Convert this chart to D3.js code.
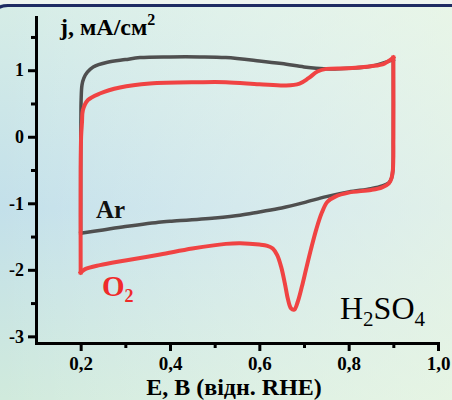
<!DOCTYPE html>
<html>
<head>
<meta charset="utf-8">
<script src="https://cdn.jsdelivr.net/npm/d3@7"></script>
<style>
  html, body { margin: 0; padding: 0; background: #e6f1ee; }
  svg { display: block; }
  text { font-family: "Liberation Serif", "Times New Roman", serif; }
</style>
</head>
<body>
<svg id="chart"></svg>
<script>
// CV curves, Pt-type electrode in H2SO4 (Ar vs O2 saturated)
var arForwardE = [0.2, 0.2, 0.2005, 0.201, 0.203, 0.207, 0.215, 0.228, 0.26, 0.3, 0.333, 0.4, 0.467, 0.525, 0.6, 0.65, 0.7, 0.727, 0.76, 0.8, 0.85, 0.9];
var arForwardJ = [-1.45, -0.6, 0.2, 0.55, 0.78, 0.88, 0.97, 1.05, 1.12, 1.16, 1.19, 1.2, 1.2, 1.19, 1.14, 1.1, 1.05, 1.03, 1.02, 1.03, 1.06, 1.16];
var arReverseE = [0.9, 0.9, 0.899, 0.896, 0.89, 0.875, 0.85, 0.8, 0.75, 0.7, 0.65, 0.6, 0.557, 0.5, 0.4, 0.38, 0.3, 0.25, 0.2];
var arReverseJ = [1.16, 0.0, -0.5, -0.62, -0.69, -0.74, -0.78, -0.83, -0.9, -0.99, -1.07, -1.13, -1.18, -1.22, -1.27, -1.28, -1.35, -1.4, -1.45];

var o2ForwardE = [0.2, 0.2, 0.201, 0.203, 0.205, 0.216, 0.243, 0.288, 0.355, 0.467, 0.525, 0.6, 0.66, 0.69, 0.71, 0.73, 0.75, 0.8, 0.85, 0.88, 0.9];
var o2ForwardJ = [-2.04, -0.5, 0.0, 0.22, 0.4, 0.55, 0.65, 0.74, 0.8, 0.82, 0.82, 0.79, 0.77, 0.8, 0.88, 0.98, 1.02, 1.03, 1.06, 1.1, 1.19];
var o2ReverseE = [0.9, 0.9, 0.899, 0.896, 0.89, 0.875, 0.85, 0.8, 0.77, 0.752, 0.74, 0.728, 0.716, 0.705, 0.695, 0.686, 0.678, 0.671, 0.664, 0.657, 0.649, 0.64, 0.63, 0.618, 0.6, 0.557, 0.525, 0.45, 0.378, 0.3, 0.243, 0.21, 0.2];
var o2ReverseJ = [1.19, 0.0, -0.5, -0.62, -0.7, -0.76, -0.8, -0.84, -0.9, -0.98, -1.14, -1.38, -1.68, -1.98, -2.26, -2.48, -2.6, -2.58, -2.44, -2.2, -1.96, -1.78, -1.68, -1.64, -1.62, -1.6, -1.61, -1.68, -1.77, -1.86, -1.93, -1.99, -2.04];

var xTicks = [0.2, 0.4, 0.6, 0.8, 1.0];
var xMinorTicks = [0.3, 0.5, 0.7, 0.9];
var yTicks = [-3, -2, -1, 0, 1];
var yMinorTicks = [-2.5, -1.5, -0.5, 0.5, 1.5];

var width = 452;
var height = 400;

var svg = d3.select('#chart')
    .attr('width', width)
    .attr('height', height);

// background
var defs = svg.append('defs');
var vgrad = defs.append('linearGradient')
    .attr('id', 'bgv').attr('x1', 0).attr('y1', 0).attr('x2', 0).attr('y2', 1);
vgrad.append('stop').attr('offset', '0%').attr('stop-color', '#d6ede6');
vgrad.append('stop').attr('offset', '52%').attr('stop-color', '#c3e0ea');
vgrad.append('stop').attr('offset', '100%').attr('stop-color', '#d0eadc');
var hgrad = defs.append('linearGradient')
    .attr('id', 'bgh').attr('x1', 0).attr('y1', 0).attr('x2', 1).attr('y2', 0);
hgrad.append('stop').attr('offset', '0%').attr('stop-color', '#ffffff').attr('stop-opacity', 0);
hgrad.append('stop').attr('offset', '100%').attr('stop-color', '#f4fbe8').attr('stop-opacity', 0.6);

svg.append('rect').attr('width', width).attr('height', height).attr('fill', 'url(#bgv)');
svg.append('rect').attr('width', width).attr('height', height).attr('fill', 'url(#bgh)');
svg.append('rect').attr('width', width).attr('height', 4).attr('fill', '#eef4f0');

// dark frame line across the top
svg.append('path')
    .attr('d', 'M -6,40 L -6,18 Q -6,5.5 8,5.5 L 460,5.5')
    .attr('fill', 'none')
    .attr('stroke', '#1f2b63')
    .attr('stroke-width', 3);

var x = d3.scaleLinear().domain([0.1, 1.0]).range([36, 438]);
var y = d3.scaleLinear().domain([-3.1, 1.8]).range([343, 17]);

function zip(es, js) {
    return es.map(function(e, i) { return [e, js[i]]; });
}

var line = d3.line()
    .x(function(d) { return x(d[0]); })
    .y(function(d) { return y(d[1]); })
    .curve(d3.curveCatmullRom.alpha(0.5));

// each sweep drawn on its own so the switching corners stay sharp
var sweeps = [
    { pts: zip(arForwardE, arForwardJ), color: '#4f4f4f', w: 3.5 },
    { pts: zip(arReverseE, arReverseJ), color: '#4f4f4f', w: 3.5 },
    { pts: zip(o2ForwardE, o2ForwardJ), color: '#f04343', w: 4 },
    { pts: zip(o2ReverseE, o2ReverseJ), color: '#f04343', w: 4 }
];

svg.append('g')
    .selectAll('path')
    .data(sweeps)
    .enter().append('path')
    .attr('d', function(d) { return line(d.pts); })
    .attr('fill', 'none')
    .attr('stroke', function(d) { return d.color; })
    .attr('stroke-width', function(d) { return d.w; })
    .attr('stroke-linejoin', 'miter')
    .attr('stroke-linecap', 'square');

// axes
var fmtX = function(d) { return d3.format('.1f')(d).replace('.', ','); };
var fmtY = function(d) { return String(d); };

var xAxis = svg.append('g')
    .attr('transform', 'translate(0,343)')
    .call(d3.axisBottom(x).tickValues(xTicks).tickSize(8).tickSizeOuter(0).tickPadding(6).tickFormat(fmtX));
svg.append('g')
    .attr('transform', 'translate(0,343)')
    .call(d3.axisBottom(x).tickValues(xMinorTicks).tickSize(5).tickSizeOuter(0).tickFormat(''))
    .select('.domain').remove();

var yAxis = svg.append('g')
    .attr('transform', 'translate(36,0)')
    .call(d3.axisLeft(y).tickValues(yTicks).tickSize(8).tickSizeOuter(0).tickPadding(4).tickFormat(fmtY));
svg.append('g')
    .attr('transform', 'translate(36,0)')
    .call(d3.axisLeft(y).tickValues(yMinorTicks).tickSize(5).tickSizeOuter(0).tickFormat(''))
    .select('.domain').remove();

svg.selectAll('.domain, .tick line')
    .attr('stroke', '#000')
    .attr('stroke-width', 3);
svg.selectAll('.domain').attr('stroke-linecap', 'square');

xAxis.selectAll('text')
    .attr('fill', '#000')
    .style('font-family', '"Liberation Serif", serif')
    .style('font-size', '19px')
    .style('font-weight', 'bold');
yAxis.selectAll('text')
    .attr('fill', '#000')
    .style('font-family', '"Liberation Serif", serif')
    .style('font-size', '18px')
    .style('font-weight', 'bold');

// axis titles
var yTitle = svg.append('text')
    .attr('x', 60)
    .attr('y', 35)
    .attr('font-size', 24)
    .attr('font-weight', 'bold')
    .attr('fill', '#000');
yTitle.append('tspan').text('j, мА/см');
yTitle.append('tspan').attr('dy', -10).attr('font-size', 16).text('2');

svg.append('text')
    .attr('x', 234)
    .attr('y', 395)
    .attr('text-anchor', 'middle')
    .attr('font-size', 24)
    .attr('font-weight', 'bold')
    .attr('fill', '#000')
    .text('E, B (відн. RHE)');

// curve labels
svg.append('text')
    .attr('x', 96)
    .attr('y', 218)
    .attr('font-size', 25)
    .attr('font-weight', 'bold')
    .attr('fill', '#111')
    .text('Ar');

var o2Label = svg.append('text')
    .attr('x', 102)
    .attr('y', 296)
    .attr('font-size', 29)
    .attr('font-weight', 'bold')
    .attr('fill', '#f02a2a');
o2Label.append('tspan').text('O');
o2Label.append('tspan').attr('dy', 6).attr('font-size', 18).text('2');

var acid = svg.append('text')
    .attr('x', 340)
    .attr('y', 319)
    .attr('font-size', 32)
    .attr('fill', '#000');
acid.append('tspan').text('H');
acid.append('tspan').attr('dy', 7).attr('font-size', 21).text('2');
acid.append('tspan').attr('dy', -7).text('SO');
acid.append('tspan').attr('dy', 7).attr('font-size', 21).text('4');
</script>
</body>
</html>
